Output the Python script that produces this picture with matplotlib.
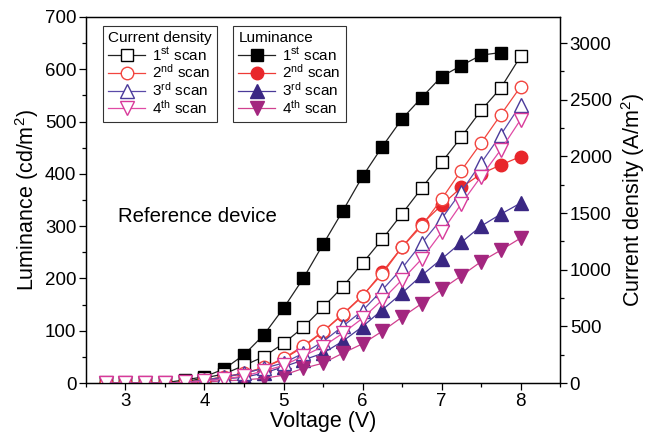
import matplotlib
matplotlib.use("Agg")
import matplotlib.pyplot as plt

plt.rcParams['font.family'] = ['Liberation Sans', 'DejaVu Sans']
plt.rcParams['mathtext.default'] = 'regular'

# bias voltage steps (V)
voltage = [2.75, 3.0, 3.25, 3.5, 3.75, 4.0, 4.25, 4.5, 4.75, 5.0, 5.25,
           5.5, 5.75, 6.0, 6.25, 6.5, 6.75, 7.0, 7.25, 7.5, 7.75, 8.0]

# luminance (cd/m2), first scan stops at 7.75 V
lum_1 = [0, 0, 0, 0.5, 6, 12, 27, 54, 92, 143, 200, 265, 329, 395, 452,
         505, 546, 586, 607, 627, 632]
lum_2 = [0, 0, 0, 0, 1, 6, 11, 18, 29, 46, 69, 98, 131, 166, 212, 260,
         304, 340, 374, 400, 417, 433]
lum_3 = [0, 0, 0, 0, 1, 4, 8, 11, 19, 31, 44, 57, 80, 108, 140, 172, 206,
         237, 269, 300, 323, 344]
lum_4 = [0, 0, 0, 0, 1, 2, 4, 6, 9, 15, 28, 38, 57, 75, 99, 126, 152, 179,
         205, 232, 254, 277]

# current density (A/m2)
cd_1 = [0, 0, 0, 0, 10, 45, 80, 155, 232, 350, 491, 667, 850, 1057, 1269,
        1493, 1720, 1946, 2170, 2405, 2603, 2882]
cd_2 = [0, 0, 0, 0, 5, 26, 55, 88, 137, 218, 327, 455, 609, 771, 963, 1198,
        1387, 1622, 1875, 2117, 2367, 2614]
cd_3 = [0, 0, 0, 0, 5, 26, 53, 86, 130, 177, 262, 365, 501, 639, 821, 1013,
        1234, 1448, 1690, 1940, 2190, 2455]
cd_4 = [0, 0, 0, 0, 5, 18, 35, 62, 106, 155, 238, 322, 439, 571, 733, 910,
        1095, 1329, 1581, 1822, 2058, 2323]

scan_labels = ['1$^{st}$ scan', '2$^{nd}$ scan', '3$^{rd}$ scan', '4$^{th}$ scan']

fig = plt.figure(figsize=(6.49, 4.4), dpi=100)
ax = fig.add_axes([0.1325, 0.1295, 0.7304, 0.8319])
ax2 = ax.twinx()

lw = 0.9
# luminance: filled markers on the left axis
lum_style = [
    dict(color='#222222', marker='s', mfc='black', mec='black', ms=8.5),
    dict(color='#ee3a35', marker='o', mfc='#e8262b', mec='#e8262b', ms=9),
    dict(color='#4a3a98', marker='^', mfc='#3a2783', mec='#3a2783', ms=10),
    dict(color='#d0408f', marker='v', mfc='#a3267f', mec='#a3267f', ms=10),
]
lum_data = [lum_1, lum_2, lum_3, lum_4]
lum_handles = []
for ys, st, lab in zip(lum_data, lum_style, scan_labels):
    h, = ax.plot(voltage[:len(ys)], ys, lw=lw, mew=1, label=lab, **st)
    lum_handles.append(h)

# current density: open markers on the right axis
cd_style = [
    dict(color='#222222', marker='s', mec='black', ms=8.5),
    dict(color='#f2453f', marker='o', mec='#f2453f', ms=9),
    dict(color='#5a4aa8', marker='^', mec='#4a3a9a', ms=10),
    dict(color='#e04aa5', marker='v', mec='#d83a9a', ms=10),
]
cd_data = [cd_1, cd_2, cd_3, cd_4]
cd_handles = []
for ys, st, lab in zip(cd_data, cd_style, scan_labels):
    h, = ax2.plot(voltage, ys, lw=lw, mew=1, mfc='white', label=lab, **st)
    cd_handles.append(h)

ax.set_xlim(2.5, 8.5)
ax.set_ylim(0, 700)
ax2.set_ylim(0, 3230)
ax.set_xticks([3, 4, 5, 6, 7, 8])
ax.set_xticks([2.5, 3.5, 4.5, 5.5, 6.5, 7.5, 8.5], minor=True)
ax.set_yticks(range(0, 701, 100))
ax.set_yticks(range(50, 700, 100), minor=True)
ax2.set_yticks(range(0, 3001, 500))
ax2.set_yticks(range(250, 3001, 500), minor=True)

for a in (ax, ax2):
    a.tick_params(which='both', direction='out', labelsize=13.5, width=0.9)
    a.tick_params(which='major', length=5, pad=2)
    a.tick_params(which='minor', length=3)
    for s in a.spines.values():
        s.set_linewidth(0.9)

ax.set_xlabel('Voltage (V)', fontsize=15.5, labelpad=1)
ax.set_ylabel('Luminance (cd/m$^2$)', fontsize=15.5, labelpad=3)
ax2.set_ylabel('Current density (A/m$^2$)', fontsize=15.5, labelpad=5)

ax.text(0.068, 0.455, 'Reference device', transform=ax.transAxes,
        fontsize=14.7, va='center', ha='left')

leg_kw = dict(fontsize=11, title_fontsize=11, frameon=True, fancybox=False,
              edgecolor='black', handlelength=2.4, handletextpad=0.45,
              labelspacing=0.0, borderpad=0.35, borderaxespad=0.0,
              alignment='left', loc='upper left')
leg1 = ax2.legend(handles=cd_handles, title='Current density',
                  bbox_to_anchor=(0.036, 0.975), **leg_kw)
leg1.get_frame().set_linewidth(0.8)
ax2.add_artist(leg1)
leg2 = ax2.legend(handles=lum_handles, title='Luminance',
                  bbox_to_anchor=(0.31, 0.975), **leg_kw)
leg2.get_frame().set_linewidth(0.8)

fig.savefig('out.png', dpi=100)
